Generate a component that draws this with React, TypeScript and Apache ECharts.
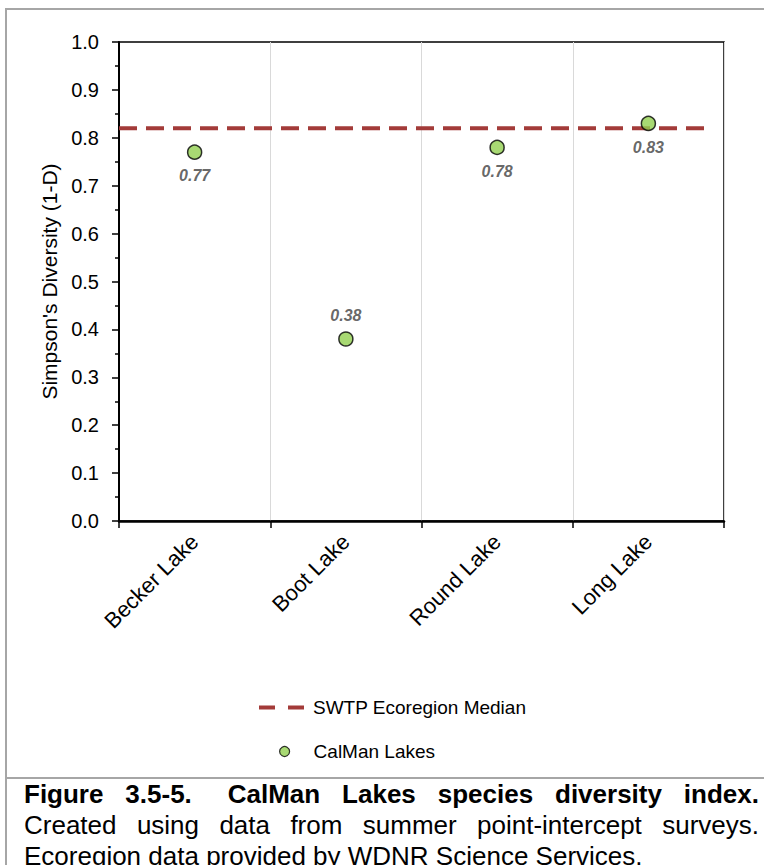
import React, { useEffect, useRef } from "react";
import * as echarts from "echarts";

const categories = ["Becker Lake", "Boot Lake", "Round Lake", "Long Lake"];
const diversity = [0.77, 0.38, 0.78, 0.83];
const labelAbove = [false, true, false, false];
const medianValue = 0.82;
const yTicks = { min: 0, max: 1, interval: 0.1 };

const FONT = '"Liberation Sans", Arial, sans-serif';
const MEDIAN_COLOR = "#A33B39";

export default function App() {
  const ref = useRef<HTMLDivElement>(null);

  useEffect(() => {
    if (!ref.current) return;
    const chart = echarts.init(ref.current, null, { renderer: "svg" });

    const scatterData = diversity.map((v, i) => ({
      value: v,
      label: { position: labelAbove[i] ? "top" : "bottom" },
    }));

    chart.setOption({
      animation: false,
      textStyle: { fontFamily: FONT },
      grid: [
        {
          left: 119,
          right: 40,
          top: 42,
          bottom: 344,
          show: true,
          borderColor: "#000",
          borderWidth: 1.5,
          backgroundColor: "transparent",
        },
        { left: 119, right: 55, top: 42, bottom: 344 },
      ],
      xAxis: [
        {
          type: "category",
          gridIndex: 0,
          data: categories,
          boundaryGap: true,
          axisLine: { lineStyle: { color: "#000", width: 2.5 } },
          axisTick: { show: true, length: 7, lineStyle: { color: "#000", width: 1.5 } },
          axisLabel: {
            rotate: 45,
            interval: 0,
            margin: 17,
            fontSize: 22,
            color: "#000",
            fontFamily: FONT,
          },
          splitLine: { show: true, lineStyle: { color: "#D9D9D9", width: 1 } },
        },
        {
          type: "value",
          gridIndex: 1,
          min: 0,
          max: 1,
          show: false,
        },
      ],
      yAxis: [
        {
          type: "value",
          gridIndex: 0,
          min: yTicks.min,
          max: yTicks.max,
          interval: yTicks.interval,
          name: "Simpson's Diversity (1-D)",
          nameLocation: "middle",
          nameGap: 57,
          nameTextStyle: { fontSize: 21, color: "#000", fontFamily: FONT },
          axisLine: { show: true, lineStyle: { color: "#000", width: 2 } },
          axisTick: { show: true, inside: false, length: 7, lineStyle: { color: "#000", width: 1.5 } },
          minorTick: { show: true, splitNumber: 2, length: 4, lineStyle: { color: "#000", width: 1.5 } },
          axisLabel: {
            margin: 20,
            fontSize: 20,
            color: "#000",
            fontFamily: FONT,
            formatter: (v: number) => v.toFixed(1),
          },
          splitLine: { show: false },
        },
        {
          type: "value",
          gridIndex: 1,
          min: yTicks.min,
          max: yTicks.max,
          show: false,
        },
      ],
      legend: [
        {
          data: [
            {
              name: "SWTP Ecoregion Median",
              icon: "path://M0,0h16v4h-16zM29,0h16v4h-16z",
            },
          ],
          left: 259,
          top: 698,
          padding: 0,
          itemWidth: 45,
          itemHeight: 4,
          itemStyle: { color: MEDIAN_COLOR, borderWidth: 0 },
          textStyle: { fontSize: 19, color: "#000", fontFamily: FONT, padding: [0, 0, 0, 4] },
        },
        {
          data: [{ name: "CalMan Lakes", icon: "circle" }],
          left: 279,
          top: 742,
          padding: 0,
          itemWidth: 10,
          itemHeight: 10,
          itemStyle: { color: "#92D050", borderColor: "#000", borderWidth: 1.2 },
          textStyle: { fontSize: 19, color: "#000", fontFamily: FONT, padding: [0, 0, 0, 19] },
        },
      ],
      series: [
        {
          name: "SWTP Ecoregion Median",
          type: "line",
          xAxisIndex: 1,
          yAxisIndex: 1,
          data: [
            [0, medianValue],
            [1, medianValue],
          ],
          symbol: "none",
          lineStyle: { color: MEDIAN_COLOR, width: 4, type: [18, 9] },
          itemStyle: { color: MEDIAN_COLOR },
          z: 3,
          silent: true,
        },
        {
          name: "CalMan Lakes",
          type: "scatter",
          xAxisIndex: 0,
          yAxisIndex: 0,
          data: scatterData,
          symbol: "circle",
          symbolSize: 14,
          itemStyle: { color: "#92D050", borderColor: "#000", borderWidth: 1.5 },
          label: {
            show: true,
            distance: 8,
            fontSize: 16,
            fontWeight: "bold",
            fontStyle: "italic",
            color: "#404040",
            fontFamily: FONT,
            formatter: (p: any) => Number(p.value).toFixed(2),
          },
          z: 4,
        },
      ],
    });

    return () => chart.dispose();
  }, []);

  const lineStyle: React.CSSProperties = {
    whiteSpace: "nowrap",
    height: 31,
    lineHeight: "31px",
  };

  return (
    <div
      style={{
        position: "absolute",
        left: 0,
        top: 0,
        width: 764,
        height: 865,
        overflow: "hidden",
        background: "#fff",
      }}
    >
      <div ref={ref} style={{ position: "absolute", left: 0, top: 0, width: 764, height: 865 }} />
      {/* chart frame */}
      <div style={{ position: "absolute", left: 5, top: 8, width: 2, height: 857, background: "#A6A6A6" }} />
      <div style={{ position: "absolute", left: 5, top: 8, width: 759, height: 2, background: "#A6A6A6" }} />
      <div style={{ position: "absolute", left: 5, top: 777, width: 759, height: 2, background: "#A6A6A6" }} />
      {/* caption */}
      <div
        style={{
          position: "absolute",
          left: 24,
          top: 779,
          width: 735,
          fontFamily: FONT,
          fontSize: 26,
          color: "#000",
        }}
      >
        <div style={{ ...lineStyle, fontWeight: "bold", textAlign: "justify", textAlignLast: "justify" }}>
          Figure 3.5-5.{"  "}
          <span style={{ marginLeft: 14 }}>CalMan</span> Lakes species diversity index.
        </div>
        <div style={{ ...lineStyle, textAlign: "justify", textAlignLast: "justify" }}>
          Created using data from summer point-intercept surveys.
        </div>
        <div style={{ ...lineStyle, textAlign: "left" }}>
          Ecoregion data provided by WDNR Science Services.
        </div>
      </div>
    </div>
  );
}
